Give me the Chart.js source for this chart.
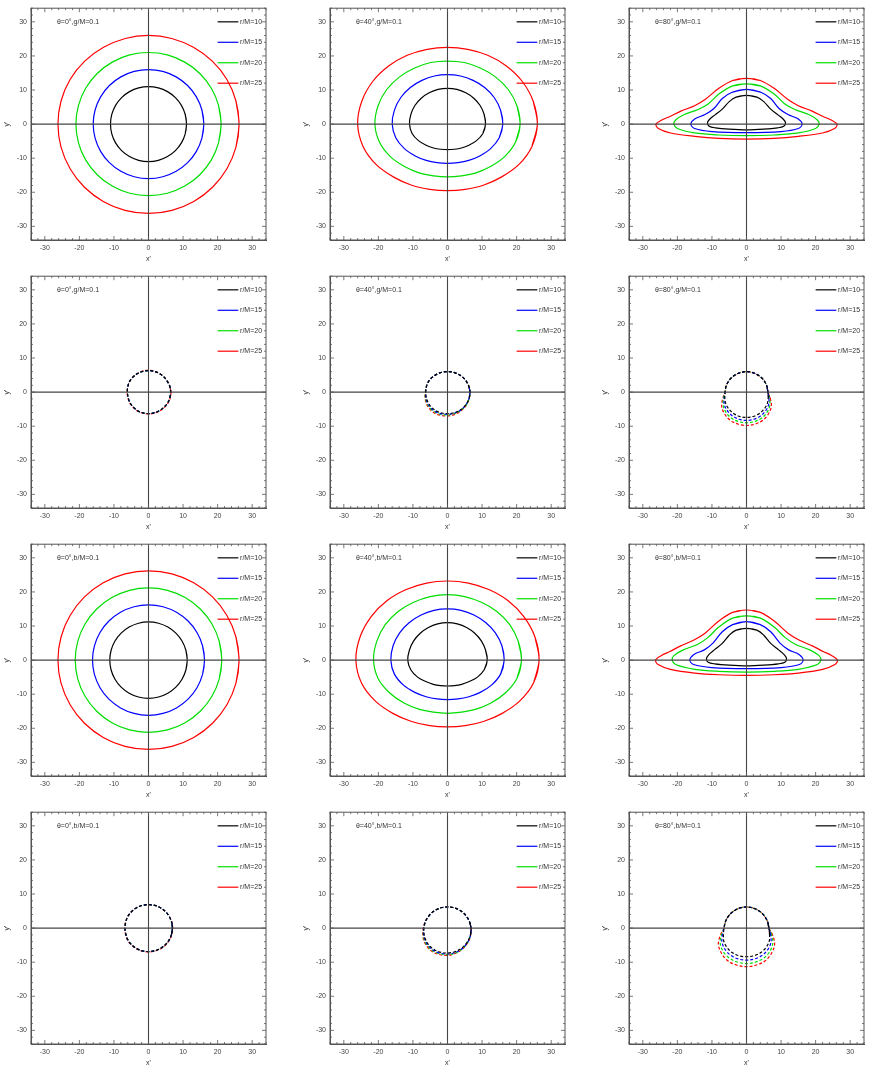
<!DOCTYPE html>
<html lang="en">
<head>
<meta charset="UTF-8" />
<title>Isoradial curves</title>
<script src="https://cdn.jsdelivr.net/npm/chart.js"></script>
<style>
  body { margin: 0; background: #fff; }
  #wrap { position: relative; width: 872px; height: 1074px; }
  .cell { position: absolute; width: 299px; height: 268px; }
</style>
</head>
<body>
<div id="wrap"></div>
<script>
  // ---- data ----
  const tickValues = [-30, -20, -10, 0, 10, 20, 30];
  const curveLabels = ['r/M=10', 'r/M=15', 'r/M=20', 'r/M=25'];
  const curveColors = ['#000000', '#0000ff', '#00dd00', '#ff0000'];
  const panelTitles = [
    'θ=0°,g/M=0.1', 'θ=40°,g/M=0.1', 'θ=80°,g/M=0.1',
    'θ=0°,g/M=0.1', 'θ=40°,g/M=0.1', 'θ=80°,g/M=0.1',
    'θ=0°,b/M=0.1', 'θ=40°,b/M=0.1', 'θ=80°,b/M=0.1',
    'θ=0°,b/M=0.1', 'θ=40°,b/M=0.1', 'θ=80°,b/M=0.1'
  ];
  const dashedPanels = [false, false, false, true, true, true, false, false, false, true, true, true];

  // polar samples: angle (deg) and radius per curve
  const angles = [0, 15, 30, 45, 60, 75, 90, 105, 120, 135, 150, 165,
                  180, 195, 210, 225, 240, 255, 270, 285, 300, 315, 330, 345];

  const radiiA = [
    [11, 11, 11, 11, 11, 11, 11, 11, 11, 11, 11, 11, 11, 11, 11, 11, 11, 11, 11, 11, 11, 11, 11, 11],
    [16, 16, 16, 16, 16, 16, 16, 16, 16, 16, 16, 16, 16, 16, 16, 16, 16, 16, 16, 16, 16, 16, 16, 16],
    [21, 21, 21, 21, 21, 21, 21, 21, 21, 21, 21, 21, 21, 21, 21, 21, 21, 21, 21, 21, 21, 21, 21, 21],
    [26.2, 26.2, 26.2, 26.1, 26, 26, 26, 26, 26, 26.1, 26.2, 26.2, 26.2, 26.2, 26.2, 26.2, 26.2, 26.2, 26.2, 26.2, 26.2, 26.2, 26.2, 26.2]
  ];
  const radiiB = [
    [11, 10.97, 10.9, 10.75, 10.6, 10.53, 10.5, 10.53, 10.6, 10.75, 10.9, 10.97, 11, 10.6, 9.7, 8.76, 8.1, 7.64, 7.5, 7.64, 8.1, 8.76, 9.7, 10.6],
    [16, 15.9, 15.6, 15.2, 14.8, 14.6, 14.5, 14.6, 14.8, 15.2, 15.6, 15.9, 16, 15.5, 14.4, 13.2, 12.3, 11.7, 11.5, 11.7, 12.3, 13.2, 14.4, 15.5],
    [21, 20.8, 20.3, 19.6, 19.0, 18.7, 18.5, 18.7, 19.0, 19.6, 20.3, 20.8, 21, 20.4, 19.1, 17.6, 16.5, 15.7, 15.5, 15.7, 16.5, 17.6, 19.1, 20.4],
    [26, 25.7, 25.0, 24.1, 23.3, 22.7, 22.5, 22.7, 23.3, 24.1, 25.0, 25.7, 26, 25.3, 23.8, 22.0, 20.7, 19.8, 19.5, 19.8, 20.7, 22.0, 23.8, 25.3]
  ];
  const radiiD = [
    [6.4, 6.4, 6.3, 6.3, 6.3, 6.3, 6.3, 6.3, 6.3, 6.3, 6.3, 6.2, 6.1, 6.1, 6.2, 6.2, 6.3, 6.3, 6.3, 6.3, 6.3, 6.3, 6.4, 6.4],
    [6.4, 6.4, 6.3, 6.3, 6.3, 6.3, 6.3, 6.3, 6.3, 6.3, 6.3, 6.2, 6.1, 6.1, 6.2, 6.2, 6.3, 6.3, 6.3, 6.3, 6.3, 6.3, 6.4, 6.4],
    [6.4, 6.4, 6.3, 6.3, 6.3, 6.3, 6.3, 6.3, 6.3, 6.3, 6.3, 6.2, 6.1, 6.1, 6.2, 6.2, 6.3, 6.3, 6.3, 6.3, 6.3, 6.3, 6.4, 6.4],
    [6.5, 6.4, 6.3, 6.3, 6.3, 6.4, 6.4, 6.4, 6.3, 6.3, 6.3, 6.2, 6.2, 6.2, 6.3, 6.3, 6.4, 6.4, 6.4, 6.4, 6.4, 6.4, 6.5, 6.5]
  ];
  const radiiE = [
    [6.5, 6.4, 6.3, 6.2, 6.1, 6.05, 6.0, 6.05, 6.1, 6.2, 6.3, 6.3, 6.3, 6.35, 6.4, 6.4, 6.4, 6.35, 6.3, 6.35, 6.4, 6.45, 6.5, 6.5],
    [6.5, 6.4, 6.3, 6.2, 6.1, 6.05, 6.0, 6.05, 6.1, 6.2, 6.3, 6.3, 6.3, 6.45, 6.6, 6.7, 6.7, 6.6, 6.5, 6.5, 6.5, 6.5, 6.5, 6.5],
    [6.5, 6.4, 6.3, 6.2, 6.1, 6.05, 6.0, 6.05, 6.1, 6.2, 6.3, 6.35, 6.4, 6.6, 6.8, 6.9, 6.9, 6.8, 6.7, 6.65, 6.6, 6.6, 6.6, 6.55],
    [6.5, 6.4, 6.3, 6.2, 6.1, 6.05, 6.0, 6.05, 6.1, 6.2, 6.3, 6.35, 6.4, 6.7, 7.0, 7.15, 7.2, 7.1, 7.0, 6.9, 6.8, 6.7, 6.6, 6.55]
  ];
  const radiiF = [
    [6.2, 6.15, 6.1, 6.05, 6.0, 6.0, 6.0, 6.0, 6.0, 6.05, 6.1, 6.15, 6.2, 6.5, 6.9, 7.15, 7.3, 7.4, 7.4, 7.4, 7.3, 7.15, 6.9, 6.5],
    [6.2, 6.15, 6.1, 6.05, 6.0, 6.0, 6.0, 6.0, 6.0, 6.05, 6.1, 6.15, 6.2, 6.7, 7.4, 7.8, 8.1, 8.25, 8.3, 8.25, 8.1, 7.8, 7.4, 6.7],
    [6.2, 6.15, 6.1, 6.05, 6.0, 6.0, 6.0, 6.0, 6.0, 6.05, 6.1, 6.15, 6.2, 6.9, 7.8, 8.4, 8.8, 8.95, 9.0, 8.95, 8.8, 8.4, 7.8, 6.9],
    [6.2, 6.15, 6.1, 6.05, 6.0, 6.0, 6.0, 6.0, 6.0, 6.05, 6.1, 6.15, 6.2, 7.1, 8.3, 9.0, 9.5, 9.7, 9.8, 9.7, 9.5, 9.0, 8.3, 7.1]
  ];
  const radiiG = [
    [11.2, 11.2, 11.2, 11.2, 11.2, 11.2, 11.2, 11.2, 11.2, 11.2, 11.2, 11.2, 11.2, 11.2, 11.2, 11.2, 11.2, 11.2, 11.2, 11.2, 11.2, 11.2, 11.2, 11.2],
    [16.2, 16.2, 16.2, 16.2, 16.2, 16.2, 16.2, 16.2, 16.2, 16.2, 16.2, 16.2, 16.2, 16.2, 16.2, 16.2, 16.2, 16.2, 16.2, 16.2, 16.2, 16.2, 16.2, 16.2],
    [21.2, 21.2, 21.2, 21.2, 21.2, 21.2, 21.2, 21.2, 21.2, 21.2, 21.2, 21.2, 21.2, 21.2, 21.2, 21.2, 21.2, 21.2, 21.2, 21.2, 21.2, 21.2, 21.2, 21.2],
    [26.2, 26.2, 26.2, 26.2, 26.2, 26.2, 26.2, 26.2, 26.2, 26.2, 26.2, 26.2, 26.2, 26.2, 26.2, 26.2, 26.2, 26.2, 26.2, 26.2, 26.2, 26.2, 26.2, 26.2]
  ];
  const radiiH = [
    [11.5, 11.4, 11.3, 11.15, 11.05, 11.0, 11.0, 11.0, 11.05, 11.15, 11.3, 11.4, 11.5, 11.0, 10.0, 8.9, 8.2, 7.75, 7.6, 7.75, 8.2, 8.9, 10.0, 11.0],
    [16.4, 16.3, 16.0, 15.6, 15.3, 15.1, 15.0, 15.1, 15.3, 15.6, 16.0, 16.3, 16.4, 15.9, 14.7, 13.4, 12.4, 11.8, 11.6, 11.8, 12.4, 13.4, 14.7, 15.9],
    [21.4, 21.2, 20.8, 20.2, 19.6, 19.3, 19.2, 19.3, 19.6, 20.2, 20.8, 21.2, 21.4, 20.8, 19.3, 17.8, 16.6, 15.8, 15.6, 15.8, 16.6, 17.8, 19.3, 20.8],
    [26.5, 26.2, 25.5, 24.7, 23.9, 23.4, 23.2, 23.4, 23.9, 24.7, 25.5, 26.2, 26.5, 25.8, 24.1, 22.2, 20.8, 19.9, 19.6, 19.9, 20.8, 22.2, 24.1, 25.8]
  ];
  const radiiJ = [
    [6.9, 6.9, 6.9, 6.9, 6.9, 6.9, 6.9, 6.9, 6.9, 6.9, 6.9, 6.8, 6.8, 6.8, 6.9, 6.9, 6.9, 6.9, 6.9, 6.9, 6.9, 6.9, 6.9, 6.9],
    [6.9, 6.9, 6.9, 6.9, 6.9, 6.9, 6.9, 6.9, 6.9, 6.9, 6.9, 6.8, 6.8, 6.8, 6.9, 6.9, 6.9, 6.9, 6.9, 6.9, 6.9, 6.9, 6.9, 6.9],
    [6.9, 6.9, 6.9, 6.9, 6.9, 6.9, 6.9, 6.9, 6.9, 6.9, 6.9, 6.8, 6.8, 6.8, 6.9, 6.9, 6.9, 6.9, 6.9, 6.9, 6.9, 6.9, 6.9, 6.9],
    [7.0, 7.0, 6.9, 6.9, 6.9, 6.9, 6.9, 6.9, 6.9, 6.9, 6.9, 6.9, 6.9, 6.9, 7.0, 7.0, 7.0, 7.0, 7.0, 7.0, 7.0, 7.0, 7.0, 7.0]
  ];
  const radiiK = [
    [6.8, 6.65, 6.5, 6.4, 6.3, 6.25, 6.2, 6.25, 6.3, 6.4, 6.5, 6.65, 6.8, 7.0, 7.2, 7.35, 7.4, 7.35, 7.3, 7.25, 7.2, 7.1, 7.0, 6.9],
    [6.8, 6.65, 6.5, 6.4, 6.3, 6.25, 6.2, 6.25, 6.3, 6.4, 6.5, 6.7, 6.9, 7.15, 7.4, 7.6, 7.7, 7.65, 7.6, 7.5, 7.4, 7.25, 7.1, 6.95],
    [6.8, 6.65, 6.5, 6.4, 6.3, 6.25, 6.2, 6.25, 6.3, 6.4, 6.5, 6.7, 6.9, 7.25, 7.6, 7.8, 7.9, 7.85, 7.8, 7.65, 7.5, 7.3, 7.1, 6.95],
    [6.8, 6.65, 6.5, 6.4, 6.3, 6.25, 6.2, 6.25, 6.3, 6.4, 6.5, 6.75, 7.0, 7.4, 7.8, 8.05, 8.2, 8.1, 8.0, 7.8, 7.6, 7.4, 7.2, 7.0]
  ];
  const radiiL = [
    [6.5, 6.4, 6.3, 6.25, 6.2, 6.2, 6.2, 6.2, 6.2, 6.25, 6.3, 6.4, 6.5, 6.9, 7.6, 8.0, 8.3, 8.4, 8.4, 8.4, 8.3, 8.0, 7.6, 6.9],
    [6.5, 6.4, 6.3, 6.25, 6.2, 6.2, 6.2, 6.2, 6.2, 6.25, 6.3, 6.4, 6.5, 7.2, 8.2, 8.8, 9.2, 9.35, 9.4, 9.35, 9.2, 8.8, 8.2, 7.2],
    [6.5, 6.4, 6.3, 6.25, 6.2, 6.2, 6.2, 6.2, 6.2, 6.25, 6.3, 6.4, 6.5, 7.5, 8.8, 9.6, 10.1, 10.3, 10.4, 10.3, 10.1, 9.6, 8.8, 7.5],
    [6.5, 6.4, 6.3, 6.25, 6.2, 6.2, 6.2, 6.2, 6.2, 6.25, 6.3, 6.4, 6.5, 7.8, 9.4, 10.3, 11.0, 11.2, 11.3, 11.2, 11.0, 10.3, 9.4, 7.8]
  ];

  // θ=80° solid panels: right half of each loop, top (x=0) to bottom (x=0)
  const loopCX = [
    [0, 3, 5, 7, 9.1, 10.6, 11.3, 10.8, 9, 5, 0],
    [0, 4, 7, 9.5, 12, 15, 16.1, 15, 10, 0],
    [0, 4, 8, 11, 14, 18, 20.5, 21, 20, 15, 8, 0],
    [0, 4, 8, 12, 15, 19, 22, 24.5, 26.2, 25.5, 22, 15, 8, 0]
  ];
  const loopCY = [
    [8.4, 7.9, 6.6, 4.4, 2.7, 1.5, 0.4, -0.6, -1.1, -1.5, -1.7],
    [10.2, 9.4, 7.5, 4.5, 2.8, 1.5, 0, -1.3, -2.2, -2.5],
    [11.8, 11.2, 8.8, 6, 4.3, 2.8, 1.2, 0, -1.3, -2.6, -3.2, -3.4],
    [13.4, 12.8, 10.5, 7.2, 5.4, 3.8, 2.3, 1.2, 0, -1.3, -2.6, -3.6, -4.2, -4.4]
  ];
  const loopIX = [
    [0, 3, 5, 7, 9.3, 10.9, 11.6, 11.1, 9.2, 5, 0],
    [0, 4, 7, 9.7, 12.2, 15.3, 16.4, 15.3, 10, 0],
    [0, 4, 8, 11.2, 14.2, 18.3, 21, 21.5, 20.5, 15, 8, 0],
    [0, 4, 8, 12, 15.2, 19.2, 22.2, 24.7, 26.3, 25.6, 22, 15, 8, 0]
  ];
  const loopIY = [
    [9.3, 8.8, 7.3, 4.9, 3.0, 1.6, 0.4, -0.6, -1.1, -1.5, -1.7],
    [11.3, 10.4, 8.3, 5.0, 3.0, 1.6, 0, -1.3, -2.2, -2.5],
    [13.0, 12.3, 9.7, 6.6, 4.6, 3.0, 1.3, 0, -1.3, -2.7, -3.3, -3.5],
    [14.7, 14.0, 11.5, 7.9, 5.9, 4.1, 2.5, 1.3, 0, -1.3, -2.7, -3.8, -4.3, -4.5]
  ];

  const polarPanels = { 0: radiiA, 1: radiiB, 3: radiiD, 4: radiiE, 5: radiiF,
                        6: radiiG, 7: radiiH, 9: radiiJ, 10: radiiK, 11: radiiL };
  const loopPanels = { 2: [loopCX, loopCY], 8: [loopIX, loopIY] };

  // closed loop: wrap one point on each side so the smoothing joins cleanly
  function closeLoop(pts) {
    const n = pts.length;
    return [pts[n - 1], ...pts, pts[0], pts[1]];
  }
  function polarPoints(radii) {
    return closeLoop(angles.map((a, i) => ({
      x: radii[i] * Math.cos(a * Math.PI / 180),
      y: radii[i] * Math.sin(a * Math.PI / 180)
    })));
  }
  function loopPoints(xs, ys) {
    const right = xs.map((x, i) => ({ x: x, y: ys[i] }));
    const left = right.slice(1, -1).reverse().map(p => ({ x: -p.x, y: p.y }));
    return closeLoop(right.concat(left));
  }

  // inward minor/major ticks, axis titles, legend and panel title
  const decor = {
    id: 'decor',
    afterDatasetsDraw(chart, args, opts) {
      const ctx = chart.ctx, a = chart.chartArea;
      const xs = chart.scales.x, ys = chart.scales.y;
      ctx.save();
      ctx.strokeStyle = '#555';
      ctx.lineWidth = 0.8;
      for (let v = -34; v <= 34; v += 2) {
        const len = v % 10 === 0 ? 4 : 2;
        const px = xs.getPixelForValue(v), py = ys.getPixelForValue(v);
        ctx.beginPath();
        ctx.moveTo(px, a.bottom); ctx.lineTo(px, a.bottom - len);
        ctx.moveTo(px, a.top); ctx.lineTo(px, a.top + len);
        ctx.moveTo(a.left, py); ctx.lineTo(a.left + len, py);
        ctx.moveTo(a.right, py); ctx.lineTo(a.right - len, py);
        ctx.stroke();
      }
      ctx.fillStyle = '#333';
      ctx.font = '7px "Liberation Sans"';
      ctx.textBaseline = 'middle';
      ctx.fillText(opts.title, xs.getPixelForValue(-26.5), ys.getPixelForValue(30));
      // legend
      curveLabels.forEach((lab, i) => {
        const py = ys.getPixelForValue(30 - 6 * i);
        ctx.strokeStyle = curveColors[i];
        ctx.lineWidth = 1.2;
        ctx.beginPath();
        ctx.moveTo(xs.getPixelForValue(20), py);
        ctx.lineTo(xs.getPixelForValue(26), py);
        ctx.stroke();
        ctx.fillStyle = '#333';
        ctx.fillText(lab, xs.getPixelForValue(26.5), py);
      });
      ctx.textAlign = 'center';
      ctx.fillText("x'", (a.left + a.right) / 2, a.bottom + 19);
      ctx.translate(a.left - 24, (a.top + a.bottom) / 2);
      ctx.rotate(-Math.PI / 2);
      ctx.fillText("y'", 0, 0);
      ctx.restore();
    }
  };

  const wrap = document.getElementById('wrap');
  panelTitles.forEach((title, p) => {
    const row = Math.floor(p / 3), col = p % 3;
    const div = document.createElement('div');
    div.className = 'cell';
    div.style.left = (col * 299) + 'px';
    div.style.top = (row * 268) + 'px';
    const cv = document.createElement('canvas');
    div.appendChild(cv);
    wrap.appendChild(div);

    let curves;
    if (polarPanels[p]) curves = polarPanels[p].map(polarPoints);
    else curves = loopPanels[p][0].map((xs, i) => loopPoints(xs, loopPanels[p][1][i]));

    const datasets = [
      { data: [{ x: -34, y: 0 }, { x: 34, y: 0 }], borderColor: '#444', borderWidth: 1.1, tension: 0 },
      { data: [{ x: 0, y: -34 }, { x: 0, y: 34 }], borderColor: '#444', borderWidth: 1.1, tension: 0 }
    ];
    curves.forEach((pts, i) => {
      datasets.push({
        label: curveLabels[i], data: pts, borderColor: curveColors[i],
        borderWidth: 1.2, tension: 0.35,
        borderDash: dashedPanels[p] ? [3, 2] : []
      });
    });

    const tickFont = { family: 'Liberation Sans', size: 7 };
    new Chart(cv, {
      type: 'scatter',
      data: { datasets: datasets },
      options: {
        responsive: true, maintainAspectRatio: false, animation: false,
        showLine: true,
        elements: { point: { radius: 0 } },
        layout: { padding: { left: 0, right: 33, top: 6, bottom: 0 } },
        plugins: { legend: { display: false }, tooltip: { enabled: false }, decor: { title: title } },
        scales: {
          x: {
            min: -34, max: 34,
            afterBuildTicks: s => { s.ticks = tickValues.map(v => ({ value: v })); },
            afterFit: s => { s.height = 28; },
            grid: { display: false, drawTicks: false },
            border: { display: true, color: '#555', width: 1 },
            ticks: { font: tickFont, color: '#444', padding: 4 }
          },
          y: {
            min: -34, max: 34,
            afterBuildTicks: s => { s.ticks = tickValues.map(v => ({ value: v })); },
            afterFit: s => { s.width = 31; },
            grid: { display: false, drawTicks: false },
            border: { display: true, color: '#555', width: 1 },
            ticks: { font: tickFont, color: '#444', padding: 4 }
          }
        }
      },
      plugins: [decor, {
        id: 'frame',
        afterDraw(chart) {
          const c = chart.ctx, a = chart.chartArea;
          c.save(); c.strokeStyle = '#555'; c.lineWidth = 1;
          c.strokeRect(a.left, a.top, a.right - a.left, a.bottom - a.top);
          c.restore();
        }
      }]
    });
  });
</script>
</body>
</html>
